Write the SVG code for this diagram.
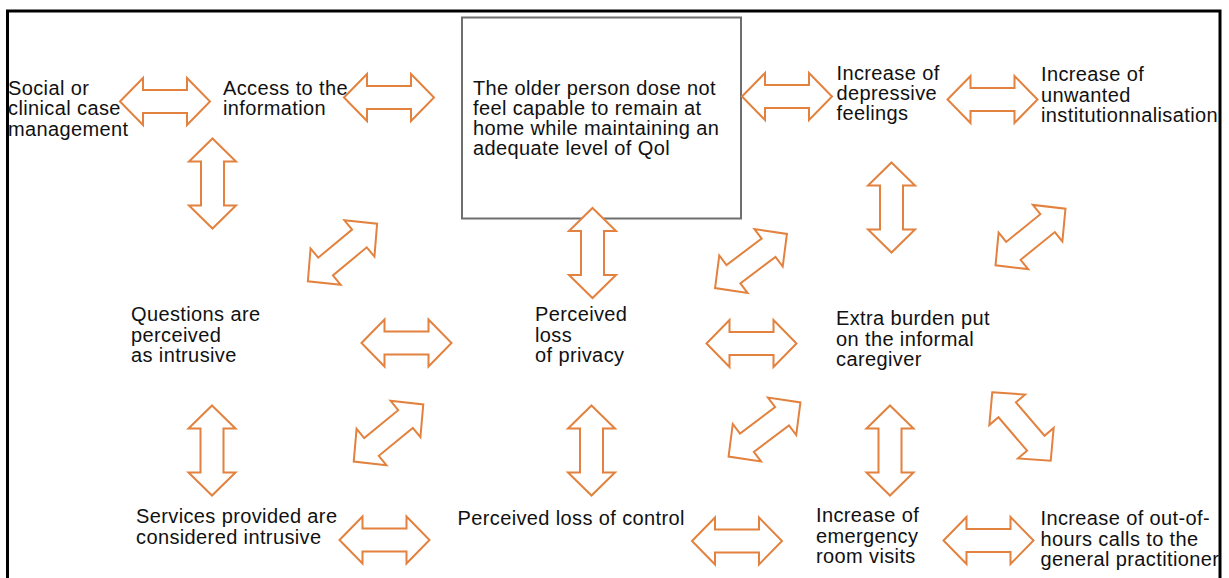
<svg xmlns="http://www.w3.org/2000/svg" xmlns:xlink="http://www.w3.org/1999/xlink" width="1229" height="578" viewBox="0 0 1229 578">
<style>
.t{font-family:"Liberation Sans",Arial,Helvetica,sans-serif;font-size:20px;letter-spacing:0.38px;fill:#111;}
.arr{fill:#fff;stroke:#E2823E;stroke-width:2;stroke-linejoin:miter;}
</style>
<defs>
<path id="dbl" d="M-45,0 L-22,-23.5 L-22,-11.5 L22,-11.5 L22,-23.5 L45,0 L22,23.5 L22,11.5 L-22,11.5 L-22,23.5 Z"/>
</defs>
<rect width="1229" height="578" fill="#fff"/>
<g id="n-center">
<rect x="462" y="17.5" width="279" height="201" fill="#fff" stroke="#6e6e6e" stroke-width="2"/>
<text class="t" x="473" y="95">The older person dose not</text>
<text class="t" x="473" y="115">feel capable to remain at</text>
<text class="t" x="473" y="135">home while maintaining an</text>
<text class="t" x="473" y="155">adequate level of Qol</text>
</g>
<g id="connectors">
<use xlink:href="#dbl" href="#dbl" class="arr" transform="translate(165,101.5)"/>
<use xlink:href="#dbl" href="#dbl" class="arr" transform="translate(389,97.5)"/>
<use xlink:href="#dbl" href="#dbl" class="arr" transform="translate(787,96.5)"/>
<use xlink:href="#dbl" href="#dbl" class="arr" transform="translate(992.5,99.5)"/>
<use xlink:href="#dbl" href="#dbl" class="arr" transform="translate(212.5,183.5) rotate(90)"/>
<use xlink:href="#dbl" href="#dbl" class="arr" transform="translate(342.5,252.5) rotate(-39.7)"/>
<use xlink:href="#dbl" href="#dbl" class="arr" transform="translate(592.5,253) rotate(90)"/>
<use xlink:href="#dbl" href="#dbl" class="arr" transform="translate(751,261) rotate(-37)"/>
<use xlink:href="#dbl" href="#dbl" class="arr" transform="translate(891.5,207.5) rotate(90)"/>
<use xlink:href="#dbl" href="#dbl" class="arr" transform="translate(1030.5,237) rotate(-39)"/>
<use xlink:href="#dbl" href="#dbl" class="arr" transform="translate(406.5,343)"/>
<use xlink:href="#dbl" href="#dbl" class="arr" transform="translate(751.5,343.5)"/>
<use xlink:href="#dbl" href="#dbl" class="arr" transform="translate(388.5,433) rotate(-39.4)"/>
<use xlink:href="#dbl" href="#dbl" class="arr" transform="translate(764.5,429.5) rotate(-37)"/>
<use xlink:href="#dbl" href="#dbl" class="arr" transform="translate(1021.5,426.5) rotate(49.5)"/>
<use xlink:href="#dbl" href="#dbl" class="arr" transform="translate(212,450.5) rotate(90)"/>
<use xlink:href="#dbl" href="#dbl" class="arr" transform="translate(591.5,450.5) rotate(90)"/>
<use xlink:href="#dbl" href="#dbl" class="arr" transform="translate(890,450.5) rotate(90)"/>
<use xlink:href="#dbl" href="#dbl" class="arr" transform="translate(384.5,540)"/>
<use xlink:href="#dbl" href="#dbl" class="arr" transform="translate(737,541)"/>
<use xlink:href="#dbl" href="#dbl" class="arr" transform="translate(988.5,540.5)"/>
</g>
<g id="n-social">
<text class="t" x="8" y="95">Social or</text>
<text class="t" x="8" y="115">clinical case</text>
<text class="t" x="8" y="135.5">management</text>
</g>
<g id="n-access">
<text class="t" x="223" y="95">Access to the</text>
<text class="t" x="223" y="115">information</text>
</g>
<g id="n-depressive">
<text class="t" x="836.5" y="80">Increase of</text>
<text class="t" x="836.5" y="100">depressive</text>
<text class="t" x="836.5" y="120">feelings</text>
</g>
<g id="n-institution">
<text class="t" x="1041" y="81">Increase of</text>
<text class="t" x="1041" y="101.5">unwanted</text>
<text class="t" x="1041" y="122">institutionnalisation</text>
</g>
<g id="n-questions">
<text class="t" x="131" y="321">Questions are</text>
<text class="t" x="131" y="341.5">perceived</text>
<text class="t" x="131" y="362">as intrusive</text>
</g>
<g id="n-privacy">
<text class="t" x="535" y="321">Perceived</text>
<text class="t" x="535" y="341.5">loss</text>
<text class="t" x="535" y="362">of privacy</text>
</g>
<g id="n-burden">
<text class="t" x="836" y="325">Extra burden put</text>
<text class="t" x="836" y="345.5">on the informal</text>
<text class="t" x="836" y="366">caregiver</text>
</g>
<g id="n-services">
<text class="t" x="136" y="523">Services provided are</text>
<text class="t" x="136" y="543.5">considered intrusive</text>
</g>
<g id="n-control">
<text class="t" x="457.5" y="525">Perceived loss of control</text>
</g>
<g id="n-emergency">
<text class="t" x="816" y="522">Increase of</text>
<text class="t" x="816" y="542.5">emergency</text>
<text class="t" x="816" y="563">room visits</text>
</g>
<g id="n-gp">
<text class="t" x="1040.5" y="525">Increase of out-of-</text>
<text class="t" x="1040.5" y="545.5">hours calls to the</text>
<text class="t" x="1040.5" y="566">general practitioner</text>
</g>
<rect x="1221" y="0" width="8" height="578" fill="#fff"/>
<rect x="7.5" y="11" width="1212.5" height="580" fill="none" stroke="#000" stroke-width="3"/>
</svg>
